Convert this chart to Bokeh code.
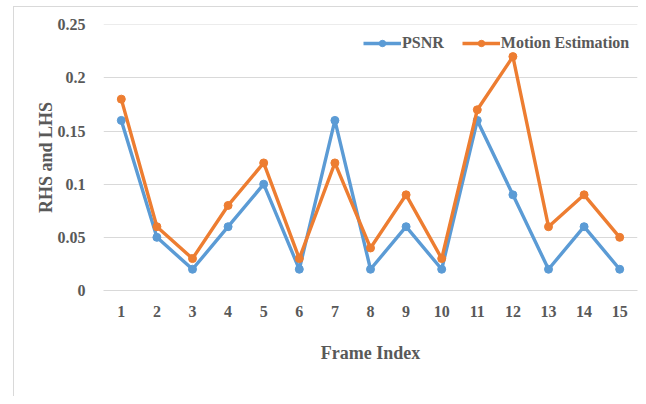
from bokeh.plotting import figure
from bokeh.models import Range1d, FixedTicker, Legend, LegendItem
from bokeh.embed import file_html
from bokeh.resources import INLINE

frames = [str(i) for i in range(1, 16)]
psnr = [0.16, 0.05, 0.02, 0.06, 0.10, 0.02, 0.16, 0.02, 0.06, 0.02, 0.16, 0.09, 0.02, 0.06, 0.02]
motion = [0.18, 0.06, 0.03, 0.08, 0.12, 0.03, 0.12, 0.04, 0.09, 0.03, 0.17, 0.22, 0.06, 0.09, 0.05]
y_ticks = [0, 0.05, 0.1, 0.15, 0.2, 0.25]
y_tick_labels = ["0", "0.05", "0.1", "0.15", "0.2", "0.25"]

BLUE = "#5B9BD5"
ORANGE = "#ED7D31"
GRAY = "#595959"
GRID = "#D9D9D9"
FONT = "Liberation Serif"

p = figure(width=625, height=390, x_range=frames, y_range=Range1d(0, 0.2502),
           output_backend="svg", toolbar_location=None,
           min_border_left=89, min_border_right=2, min_border_top=17, min_border_bottom=107)
p.margin = (6, 0, 0, 13)
p.styles = {"border-left": "1px solid #D9D9D9", "border-top": "1px solid #D9D9D9"}
p.outline_line_color = None
p.background_fill_color = "white"
p.border_fill_color = "white"

l1 = p.line(frames, psnr, line_color=BLUE, line_width=3.4)
s1 = p.scatter(frames, psnr, size=8, fill_color=BLUE, line_color=BLUE)
l2 = p.line(frames, motion, line_color=ORANGE, line_width=3.4)
s2 = p.scatter(frames, motion, size=8, fill_color=ORANGE, line_color=ORANGE)

p.yaxis.ticker = FixedTicker(ticks=y_ticks)
p.yaxis.major_label_overrides = {t: l for t, l in zip(y_ticks, y_tick_labels)}
p.ygrid.ticker = FixedTicker(ticks=y_ticks)
p.ygrid.grid_line_color = GRID
p.xgrid.grid_line_color = None

for ax in (p.xaxis[0], p.yaxis[0]):
    ax.major_tick_line_color = None
    ax.minor_tick_line_color = None
    ax.major_label_text_font = FONT
    ax.major_label_text_font_style = "bold"
    ax.major_label_text_font_size = "16px"
    ax.major_label_text_color = GRAY
    ax.axis_label_text_font = FONT
    ax.axis_label_text_font_style = "bold"
    ax.axis_label_text_font_size = "18px"
    ax.axis_label_text_color = GRAY

p.yaxis.axis_line_color = None
p.yaxis.major_label_standoff = 12
p.yaxis.axis_label = "RHS and LHS"
p.yaxis.axis_label_standoff = -1
p.xaxis.axis_line_color = GRID
p.xaxis.major_label_standoff = 9
p.xaxis.axis_label = "Frame Index"
p.xaxis.axis_label_standoff = 23

legend = Legend(items=[LegendItem(label="PSNR", renderers=[l1, s1]),
                       LegendItem(label="Motion Estimation", renderers=[l2, s2])],
                location=(260, 238), orientation="horizontal")
legend.glyph_width = 38
legend.glyph_height = 16
legend.label_height = 16
legend.label_standoff = 1
legend.spacing = 18
legend.padding = 0
legend.margin = 0
legend.border_line_color = None
legend.background_fill_alpha = 0
legend.label_text_font = FONT
legend.label_text_font_style = "bold"
legend.label_text_font_size = "16px"
legend.label_text_color = GRAY
p.add_layout(legend, "center")

open("out.html", "w").write(file_html(p, INLINE))
